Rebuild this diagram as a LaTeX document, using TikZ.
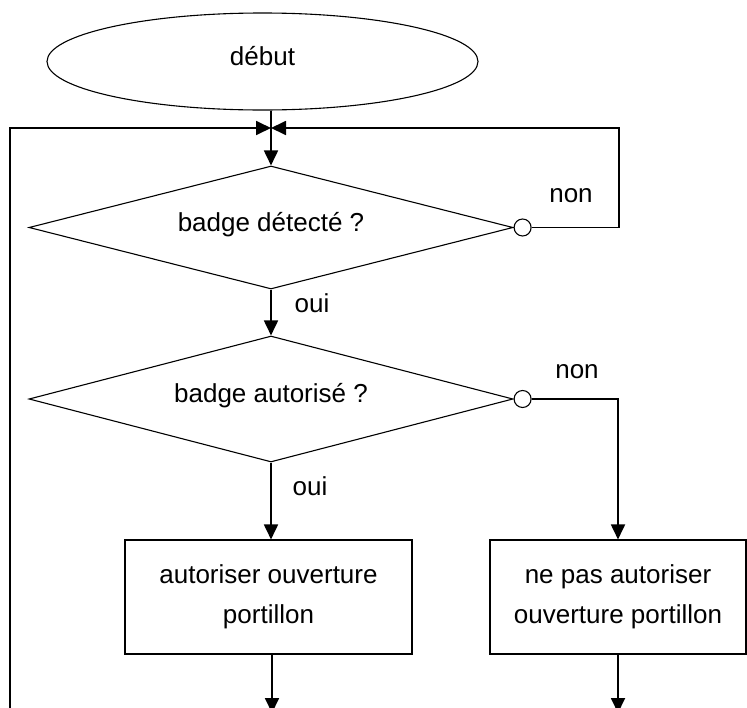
\documentclass[tikz,border=0pt]{standalone}
\usepackage{fontspec}
\setmainfont{Liberation Sans}
\usetikzlibrary{shapes.geometric,arrows.meta}
\begin{document}
\begin{tikzpicture}[x=1pt,y=-1pt,
  txt/.style={font=\fontsize{26}{40}\selectfont},
  outline/.style={draw,line width=1.1pt},
  startnode/.style={outline,ellipse,txt,inner sep=0pt,minimum width=431pt,minimum height=97pt,text height=14pt,text depth=6pt},
  decision/.style={outline,diamond,aspect=4,txt,inner sep=0pt,minimum width=484pt,text height=13pt,text depth=6pt},
  action/.style={outline,rectangle,txt,align=center,inner sep=0pt,minimum height=114pt},
  joint/.style={outline,circle,fill=white,inner sep=0pt,minimum size=17pt},
  label/.style={txt,anchor=base,inner sep=0pt},
  conn/.style={draw,line width=1.8pt},
  arr/.style={conn,-{Triangle[length=15pt,width=14pt]}}
]
\useasboundingbox (0,0) rectangle (747,707);
\clip (0,0) rectangle (747,707);

% shapes
\node[startnode] (start) at (262.5,61.5) {début};
\coordinate (j) at (271,128);
\node[decision,minimum height=123pt] (d1) at (271,227.5) {badge détecté ?};
\node[decision,minimum height=126pt] (d2) at (271,399) {badge autorisé ?};
\node[action,minimum width=287pt] (b1) at (268.5,597) {autoriser ouverture\\portillon};
\node[action,minimum width=256pt] (b2) at (618,597) {ne pas autoriser\\ouverture portillon};
\node[joint,anchor=west] (c1) at (d1.east) {};
\node[joint,anchor=west] (c2) at (d2.east) {};

% free ends / corners
\coordinate (lb) at (10,712);
\coordinate (lt) at (10,128);
\coordinate (rt) at (619,128);
\coordinate (b1end) at (272,713);
\coordinate (b2end) at (618,713);

% connectors
\draw[conn] (start.south -| j) -- (j);
\draw[arr] (j) -- (d1.north);
\draw[arr] (lb) -- (lt) -- (j);
\draw[arr] (c1.east) -| (rt) -- (j);
\draw[arr] (d1.south) -- (d2.north);
\draw[arr] (d2.south) -- (b1.north -| d2.south);
\draw[arr] (c2.east) -| (b2.north);
\draw[arr] (b1.south -| b1end) -- (b1end);
\draw[arr] (b2.south) -- (b2end);

% labels
\node[label] (non1) at (571,202) {non};
\node[label] (oui1) at (312,312) {oui};
\node[label] (non2) at (577,378) {non};
\node[label] (oui2) at (310,495) {oui};
\end{tikzpicture}
\end{document}
